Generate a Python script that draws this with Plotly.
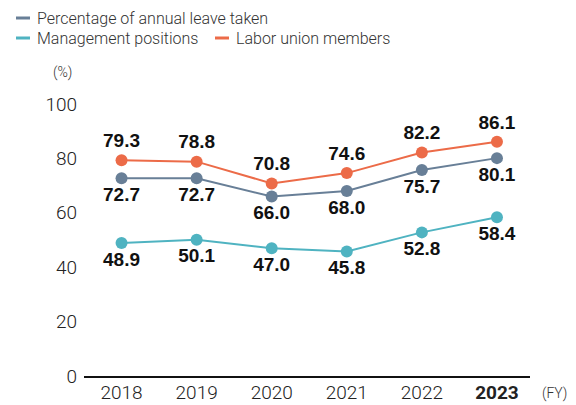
import plotly.graph_objects as go

years = ["2018", "2019", "2020", "2021", "2022", "2023"]
year_labels = ["2018", "2019", "2020", "2021", "2022", "<b>2023</b>"]
annual_leave = [72.7, 72.7, 66.0, 68.0, 75.7, 80.1]
management = [48.9, 50.1, 47.0, 45.8, 52.8, 58.4]
labor_union = [79.3, 78.8, 70.8, 74.6, 82.2, 86.1]

series_names = ["Percentage of annual leave taken", "Management positions", "Labor union members"]

C_LEAVE = "#687f97"
C_MGMT = "#4fb3c1"
C_UNION = "#ec6b48"
FONT = "Liberation Sans"
LIGHT = "Roboto"

# the page body adds an 8px margin, so the figure is 8px smaller each way
W, H = 568, 397
ML, MR, MT, MB = 76, 46, 96, 29

fig = go.Figure()


def add_series(values, color, pos, name):
    fig.add_trace(go.Scatter(
        x=years, y=values, name=name,
        mode="lines+markers+text",
        line=dict(color=color, width=2),
        marker=dict(color=color, size=12),
        text=[f"{v:.1f}" for v in values],
        textposition=pos,
        textfont=dict(family=FONT, size=19, color="#111", weight="bold"),
        cliponaxis=False,
        showlegend=False,
    ))


add_series(management, C_MGMT, "bottom center", series_names[1])
add_series(annual_leave, C_LEAVE, "bottom center", series_names[0])
add_series(labor_union, C_UNION, "top center", series_names[2])


def px(x, y):
    # page pixels of the reference picture -> paper coordinates
    x, y = x - 8, y - 8
    return (x - ML) / (W - ML - MR), (H - MB - y) / (H - MT - MB)


small = dict(family=LIGHT, size=14, color="#333", weight=300)
legend_font = dict(family=LIGHT, size=16, color="#333", weight=300)

annotations = []
shapes = []
# hand-made legend: short dash + label
legend_items = [
    (series_names[0], C_LEAVE, 16, 18),
    (series_names[1], C_MGMT, 16, 38),
    (series_names[2], C_UNION, 215, 38),
]
for name, color, lx, ly in legend_items:
    x0, y0 = px(lx, ly)
    x1, _ = px(lx + 14, ly)
    shapes.append(dict(type="line", xref="paper", yref="paper", x0=x0, x1=x1, y0=y0, y1=y0,
                       line=dict(color=color, width=3)))
    tx, ty = px(lx + 19, ly)
    annotations.append(dict(text=name, x=tx, y=ty, xref="paper", yref="paper",
                            xanchor="left", yanchor="middle", showarrow=False, font=legend_font))

for text, (ax, ay) in [("(%)", px(62, 73)), ("(FY)", px(554, 393))]:
    annotations.append(dict(text=text, x=ax, y=ay, xref="paper", yref="paper",
                            xanchor="center", yanchor="middle", showarrow=False, font=small))

fig.update_layout(
    width=W, height=H,
    margin=dict(l=ML, r=MR, t=MT, b=MB, autoexpand=False),
    plot_bgcolor="white", paper_bgcolor="white",
    font=dict(family=FONT, color="#222"),
    showlegend=False,
    xaxis=dict(
        range=[-0.5, 5.44],
        tickvals=years, ticktext=year_labels,
        tickfont=dict(family=LIGHT, size=19, color="#222", weight=300),
        showgrid=False, showline=True, linecolor="#111", linewidth=1.5,
        ticks="", zeroline=False, automargin=False,
        ticklabelstandoff=-2,
    ),
    yaxis=dict(
        range=[0, 100],
        tickvals=[0, 20, 40, 60, 80, 100],
        tickfont=dict(family=LIGHT, size=19, color="#222", weight=300),
        showgrid=False, showline=False, zeroline=False, ticks="",
        ticklabelstandoff=6, automargin=False,
    ),
    annotations=annotations,
    shapes=shapes,
)

fig.write_html("out.html")
